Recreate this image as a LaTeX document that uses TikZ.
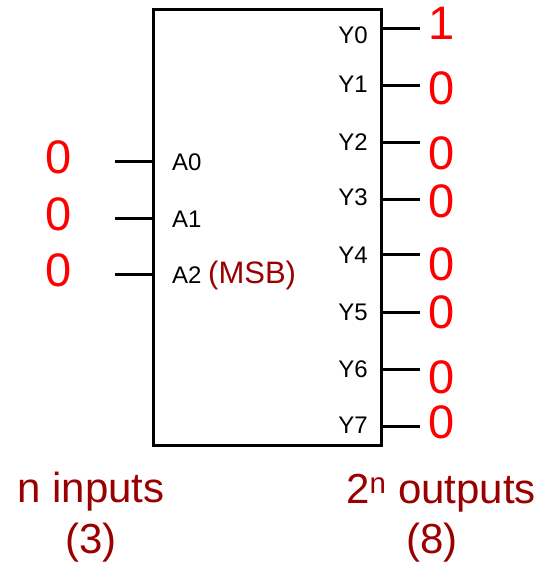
\documentclass[tikz,border=0pt]{standalone}
\usepackage{fontspec}
\setmainfont{Liberation Sans}
\usetikzlibrary{positioning}
\definecolor{bitred}{RGB}{255,0,0}
\definecolor{notered}{RGB}{153,0,0}

\begin{document}
\begin{tikzpicture}[
  x=1pt, y=-1pt,
  pin/.style ={line width=3pt},
  chip/.style={draw, line width=3pt, inner sep=0pt, minimum width=228pt, minimum height=436pt},
  lbl/.style ={inner sep=0pt, font=\fontsize{24}{24}\selectfont},
  bit/.style ={inner sep=0pt, text=bitred, font=\fontsize{47}{47}\selectfont},
  note/.style={inner sep=0pt, text=notered, font=\fontsize{42}{42}\selectfont}
]
\useasboundingbox (0,0) rectangle (542,562);

\node[chip] (dec) at (267,227) {};

\foreach \k/\py/\ly in {0/161/170, 1/218/227, 2/274/283}{
  \coordinate (ain\k) at (115,\py);
  \node[bit] (va\k) at (59,\py-4) {0};
  \draw[pin] (ain\k) -- (dec.west |- ain\k);
}
\node[lbl, anchor=base west] (a0) at (172,170) {A0};
\node[lbl, anchor=base west] (a1) at (172,227) {A1};
\node[lbl, anchor=base west] (a2) at (172,283)
  {A2 \textcolor{notered}{\fontsize{31}{31}\selectfont(MSB)}};

\foreach \k/\py/\ly/\vy/\v in {0/28/43/23/1, 1/85/92/88/0, 2/142/150/153/0,
    3/199/205/201/0, 4/254/263/264/0, 5/312/320/312/0, 6/369/377/377/0, 7/426/433/422/0}{
  \coordinate (yout\k) at (420,\py);
  \node[lbl, anchor=base east] (y\k) at (368,\ly) {Y\k};
  \node[bit] (vy\k) at (442,\vy) {\v};
  \draw[pin] (dec.east |- yout\k) -- (yout\k);
}

\node[note, anchor=base] (ninputs) at (91,502) {n inputs};
\node[note, anchor=base] (ncount)  at (91,553) {(3)};
\node[note, anchor=base] (noutputs) at (441,503) {2\textsuperscript{n} outputs};
\node[note, anchor=base] (nsize)   at (432,553) {(8)};
\end{tikzpicture}
\end{document}
